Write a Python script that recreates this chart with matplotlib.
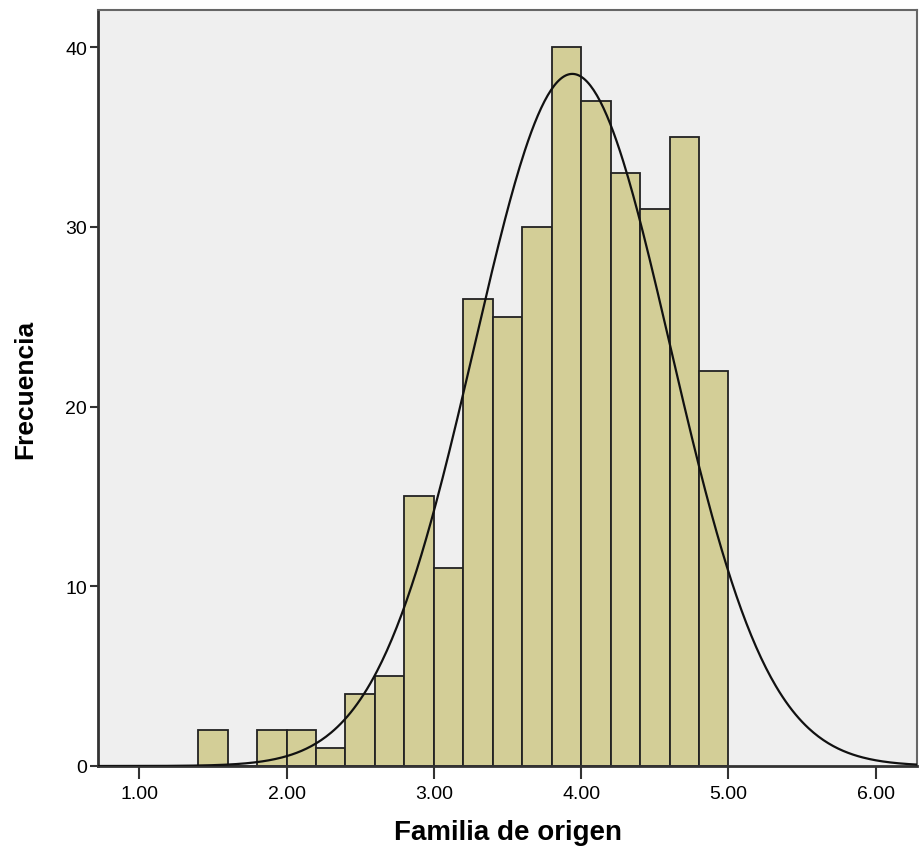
import numpy as np
import matplotlib
matplotlib.use("Agg")
import matplotlib.pyplot as plt

plt.rcParams["font.family"] = ["Liberation Sans", "DejaVu Sans"]

# Histogram data (bin width 0.2)
bin_left = [1.4, 1.6, 1.8, 2.0, 2.2, 2.4, 2.6, 2.8, 3.0, 3.2, 3.4, 3.6, 3.8, 4.0, 4.2, 4.4, 4.6, 4.8]
counts = [2, 0, 2, 2, 1, 4, 5, 15, 11, 26, 25, 30, 40, 37, 33, 31, 35, 22]
bin_width = 0.2

# Normal curve parameters
mean = 3.94
std = 0.665
n_total = sum(counts)

xticks = [1, 2, 3, 4, 5, 6]
xtick_labels = ["1.00", "2.00", "3.00", "4.00", "5.00", "6.00"]
yticks = [0, 10, 20, 30, 40]

fig = plt.figure(figsize=(9.24, 8.53), dpi=100)
ax = fig.add_axes([98 / 924, 86 / 853, 819 / 924, 756 / 853])
ax.set_facecolor("#efefef")

ax.bar(bin_left, counts, width=bin_width, align="edge",
       color="#d3ce97", edgecolor="#222222", linewidth=1.3, zorder=2)

xs = np.linspace(0.72, 6.28, 500)
ys = n_total * bin_width / (std * np.sqrt(2 * np.pi)) * np.exp(-0.5 * ((xs - mean) / std) ** 2)
ax.plot(xs, ys, color="#111111", linewidth=1.6, zorder=3)

ax.set_xlim(0.72, 6.28)
ax.set_ylim(0, 42.07)
ax.set_xticks(xticks)
ax.set_xticklabels(xtick_labels, fontsize=14)
ax.set_yticks(yticks)
ax.set_yticklabels([str(v) for v in yticks], fontsize=14)
ax.tick_params(axis="x", direction="out", length=9, width=1.5, color="#333333", pad=5)
ax.tick_params(axis="y", direction="out", length=6, width=1.5, color="#333333", pad=2)

for side in ["left", "bottom"]:
    ax.spines[side].set_color("#333333")
    ax.spines[side].set_linewidth(2)
for side in ["top", "right"]:
    ax.spines[side].set_color("#666666")
    ax.spines[side].set_linewidth(1.5)

ax.set_xlabel("Familia de origen", fontsize=20, fontweight="bold", labelpad=12)
ax.set_ylabel("Frecuencia", fontsize=19, fontweight="bold", labelpad=20)

fig.savefig("out.png", dpi=100)
